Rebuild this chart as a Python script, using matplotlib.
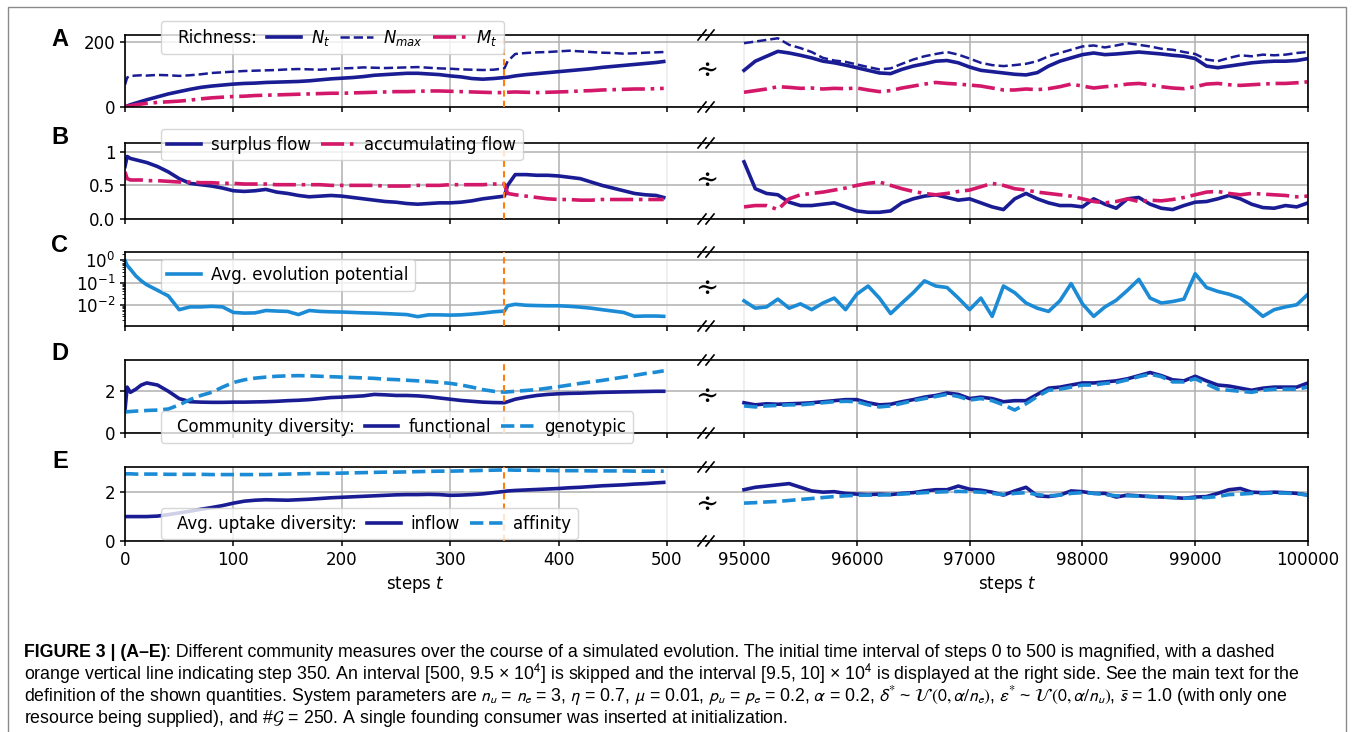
import matplotlib
matplotlib.use("Agg")
import matplotlib.pyplot as plt
import matplotlib.patches as mpatches
from matplotlib.lines import Line2D
from matplotlib.legend_handler import HandlerBase

# ---------------- data ----------------
steps_left = [0, 2, 5, 10, 15,
              20, 30, 40, 50, 60, 70, 80, 90, 100,
              110, 120, 130, 140, 150, 160, 170, 180, 190, 200,
              210, 220, 230, 240, 250, 260, 270, 280, 290, 300,
              310, 320, 330, 340, 350, 353,
              360, 370, 380, 390, 400, 410, 420, 430, 440, 450, 460, 470, 480, 490, 497]

steps_right = [95000, 95100, 95200, 95300, 95400, 95500, 95600, 95700, 95800, 95900,
               96000, 96100, 96200, 96300, 96400, 96500, 96600, 96700, 96800, 96900,
               97000, 97100, 97200, 97300, 97400, 97500, 97600, 97700, 97800, 97900,
               98000, 98100, 98200, 98300, 98400, 98500, 98600, 98700, 98800, 98900,
               99000, 99100, 99200, 99300, 99400, 99500, 99600, 99700, 99800, 99900,
               100000]

# A: richness
n_t_left = [0, 3, 7, 12, 17,
            22, 31, 40, 47, 54, 60, 64, 67, 70,
            72, 73, 75, 76, 77, 78, 80, 83, 86, 88,
            90, 93, 97, 99, 101, 103, 103, 101, 99, 95,
            92, 87, 85, 87, 90, 91,
            95, 99, 102, 105, 108, 111, 114, 117, 121, 124, 127, 130, 133, 136, 139]
n_max_left = [68, 90, 95, 96, 97,
              96, 98, 97, 95, 97, 100, 104, 106, 108,
              110, 111, 112, 113, 115, 116, 115, 114, 116, 118,
              119, 121, 120, 119, 120, 121, 122, 120, 118, 117,
              115, 114, 113, 114, 118, 140,
              162, 165, 167, 168, 170, 172, 170, 168, 166, 165, 163, 164, 166, 167, 168]
m_t_left = [0, 2, 4, 7, 9,
            11, 14, 16, 18, 21, 25, 28, 30, 32,
            33, 35, 36, 37, 38, 39, 40, 41, 42, 42,
            43, 44, 45, 46, 47, 47, 48, 49, 49, 48,
            47, 46, 45, 44, 44, 45,
            46, 45, 44, 45, 46, 47, 49, 50, 52, 53, 54, 55, 55, 56, 57]
n_t_right = [112, 140, 155, 170, 165, 158, 150, 140, 135, 128,
             120, 112, 104, 102, 115, 125, 132, 140, 142, 135,
             122, 112, 108, 104, 100, 98, 105, 125, 140, 150,
             160, 165, 160, 162, 165, 168, 165, 162, 158, 155,
             148, 125, 120, 125, 130, 135, 138, 140, 140, 142, 148]
n_max_right = [195, 200, 205, 210, 190, 180, 168, 150, 142, 138,
               130, 122, 115, 118, 132, 145, 155, 162, 168, 160,
               148, 135, 128, 125, 128, 132, 140, 155, 165, 175,
               185, 188, 182, 188, 195, 190, 185, 178, 175, 168,
               162, 145, 140, 150, 158, 155, 160, 158, 160, 165, 168]
m_t_right = [45, 50, 55, 62, 60, 57, 58, 55, 57, 56,
             58, 52, 47, 50, 58, 64, 70, 75, 72, 70,
             67, 64, 58, 52, 52, 55, 53, 56, 62, 70,
             64, 58, 62, 65, 70, 72, 68, 62, 58, 56,
             62, 70, 72, 68, 66, 68, 70, 72, 72, 74, 77]

# B: flows
surplus_left = [0.78, 0.93, 0.90, 0.88, 0.86,
                0.84, 0.78, 0.70, 0.60, 0.53, 0.51, 0.49, 0.46, 0.42,
                0.41, 0.42, 0.44, 0.40, 0.38, 0.35, 0.33, 0.34, 0.35, 0.34,
                0.32, 0.30, 0.28, 0.26, 0.25, 0.23, 0.22, 0.23, 0.24, 0.24,
                0.25, 0.27, 0.30, 0.32, 0.34, 0.50,
                0.66, 0.66, 0.65, 0.65, 0.64, 0.62, 0.60, 0.55, 0.50, 0.46, 0.42, 0.38, 0.36, 0.35, 0.32]
accum_left = [0.70, 0.60, 0.58, 0.58, 0.58,
              0.57, 0.57, 0.56, 0.55, 0.55, 0.54, 0.54, 0.53, 0.53,
              0.52, 0.52, 0.52, 0.51, 0.51, 0.51, 0.51, 0.51, 0.50, 0.50,
              0.50, 0.50, 0.50, 0.49, 0.49, 0.49, 0.50, 0.50, 0.50, 0.51,
              0.51, 0.51, 0.51, 0.52, 0.52, 0.38,
              0.36, 0.34, 0.32, 0.30, 0.29, 0.29, 0.28, 0.28, 0.29, 0.29, 0.29, 0.29, 0.29, 0.29, 0.29]
surplus_right = [0.85, 0.45, 0.38, 0.36, 0.25, 0.20, 0.20, 0.22, 0.24, 0.18,
                 0.12, 0.10, 0.10, 0.12, 0.24, 0.30, 0.34, 0.36, 0.32, 0.28,
                 0.30, 0.24, 0.18, 0.14, 0.30, 0.38, 0.30, 0.24, 0.20, 0.20,
                 0.18, 0.30, 0.22, 0.16, 0.30, 0.32, 0.22, 0.16, 0.14, 0.20,
                 0.25, 0.26, 0.30, 0.35, 0.30, 0.22, 0.17, 0.16, 0.20, 0.18, 0.24]
accum_right = [0.18, 0.20, 0.20, 0.14, 0.30, 0.36, 0.38, 0.40, 0.43, 0.46,
               0.50, 0.53, 0.55, 0.50, 0.45, 0.41, 0.38, 0.36, 0.38, 0.41,
               0.43, 0.48, 0.53, 0.50, 0.45, 0.43, 0.40, 0.38, 0.36, 0.34,
               0.30, 0.26, 0.24, 0.26, 0.30, 0.26, 0.28, 0.27, 0.29, 0.32,
               0.36, 0.40, 0.41, 0.38, 0.36, 0.38, 0.37, 0.36, 0.35, 0.33, 0.34]

# C: avg. evolution potential
evo_left = [1.0, 0.6, 0.4, 0.2, 0.12,
            0.08, 0.045, 0.025, 0.006, 0.008, 0.008, 0.0085, 0.008, 0.0045,
            0.0042, 0.0043, 0.0055, 0.0052, 0.005, 0.0036, 0.0055, 0.005, 0.0048, 0.0047,
            0.0045, 0.0043, 0.0042, 0.004, 0.0038, 0.0036, 0.0029, 0.0035, 0.0035, 0.0034,
            0.0035, 0.0038, 0.0042, 0.0048, 0.0052, 0.009,
            0.0105, 0.0095, 0.0092, 0.009, 0.009, 0.0085, 0.0078, 0.007, 0.006, 0.0052,
            0.0045, 0.003, 0.0031, 0.0031, 0.003]
evo_right = [0.015, 0.007, 0.008, 0.018, 0.007, 0.011, 0.006, 0.012, 0.02, 0.006,
             0.03, 0.07, 0.02, 0.004, 0.012, 0.035, 0.12, 0.07, 0.06, 0.02,
             0.006, 0.02, 0.003, 0.07, 0.035, 0.012, 0.007, 0.005, 0.015, 0.09,
             0.011, 0.003, 0.008, 0.016, 0.045, 0.14, 0.02, 0.012, 0.014, 0.018,
             0.25, 0.06, 0.04, 0.03, 0.02, 0.008, 0.003, 0.006, 0.008, 0.01, 0.03]

# D: community diversity
functional_left = [1.1, 2.2, 1.95, 2.1, 2.3,
                   2.4, 2.3, 2.0, 1.65, 1.5, 1.48, 1.47, 1.47, 1.48,
                   1.48, 1.49, 1.5, 1.52, 1.55, 1.57, 1.6, 1.65, 1.7, 1.72,
                   1.75, 1.78, 1.85, 1.83, 1.8, 1.8, 1.78, 1.74, 1.68, 1.62,
                   1.56, 1.52, 1.48, 1.46, 1.45, 1.5,
                   1.62, 1.72, 1.8, 1.85, 1.88, 1.9, 1.91, 1.93, 1.95, 1.96, 1.97, 1.98, 1.99, 2.0, 2.0]
genotypic_left = [1.0, 1.02, 1.03, 1.05, 1.06,
                  1.08, 1.1, 1.15, 1.35, 1.6, 1.8, 1.95, 2.2, 2.42,
                  2.55, 2.63, 2.68, 2.72, 2.74, 2.75, 2.74, 2.72, 2.7, 2.68,
                  2.66, 2.64, 2.62, 2.58, 2.56, 2.53, 2.5, 2.47, 2.43, 2.38,
                  2.3, 2.2, 2.08, 2.0, 1.96, 1.97,
                  2.0, 2.04, 2.08, 2.15, 2.22, 2.3, 2.38, 2.45, 2.52, 2.6, 2.68, 2.76, 2.85, 2.92, 2.98]
functional_right = [1.45, 1.35, 1.4, 1.38, 1.4, 1.42, 1.45, 1.5, 1.55, 1.6,
                    1.6, 1.45, 1.35, 1.38, 1.5, 1.6, 1.72, 1.8, 1.92, 1.85,
                    1.65, 1.72, 1.65, 1.5, 1.55, 1.55, 1.85, 2.15, 2.2, 2.3,
                    2.4, 2.4, 2.45, 2.5, 2.6, 2.75, 2.9, 2.75, 2.55, 2.5,
                    2.72, 2.5, 2.3, 2.25, 2.15, 2.05, 2.15, 2.2, 2.2, 2.2, 2.4]
genotypic_right = [1.3, 1.25, 1.3, 1.32, 1.35, 1.35, 1.4, 1.45, 1.5, 1.52,
                   1.5, 1.35, 1.25, 1.3, 1.42, 1.55, 1.65, 1.75, 1.85, 1.75,
                   1.58, 1.65, 1.55, 1.35, 1.1, 1.4, 1.75, 2.05, 2.1, 2.2,
                   2.3, 2.3, 2.38, 2.42, 2.55, 2.7, 2.82, 2.7, 2.45, 2.45,
                   2.6, 2.35, 2.1, 2.05, 2.0, 1.95, 2.05, 2.1, 2.1, 2.1, 2.2]

# E: avg. uptake diversity
inflow_left = [1.0, 1.0, 1.0, 1.0, 1.0,
               1.0, 1.02, 1.08, 1.15, 1.22, 1.3, 1.37, 1.45, 1.55,
               1.63, 1.67, 1.69, 1.68, 1.67, 1.69, 1.71, 1.74, 1.77, 1.79,
               1.81, 1.83, 1.85, 1.87, 1.89, 1.9, 1.9, 1.91, 1.9, 1.87,
               1.88, 1.9, 1.93, 1.98, 2.03, 2.05,
               2.07, 2.09, 2.11, 2.13, 2.15, 2.18, 2.2, 2.23, 2.26, 2.28, 2.3, 2.33, 2.35, 2.38, 2.4]
affinity_left = [2.75, 2.75, 2.75, 2.74, 2.74,
                 2.74, 2.74, 2.73, 2.73, 2.73, 2.73, 2.72, 2.72, 2.72,
                 2.72, 2.72, 2.72, 2.73, 2.74, 2.75, 2.76, 2.77, 2.77, 2.78,
                 2.79, 2.8, 2.81, 2.82, 2.82, 2.83, 2.84, 2.85, 2.86, 2.86,
                 2.87, 2.88, 2.89, 2.9, 2.91, 2.91,
                 2.9, 2.9, 2.89, 2.89, 2.88, 2.88, 2.88, 2.87, 2.87, 2.87, 2.87, 2.86, 2.86, 2.86, 2.86]
inflow_right = [2.1, 2.2, 2.25, 2.3, 2.35, 2.2, 2.05, 2.0, 2.02, 1.95,
                1.92, 1.9, 1.92, 1.9, 1.95, 1.98, 2.05, 2.1, 2.1, 2.25,
                2.12, 2.08, 2.0, 1.88, 2.05, 2.2, 1.85, 1.82, 1.88, 2.05,
                2.02, 1.95, 1.95, 1.8, 1.88, 1.85, 1.82, 1.8, 1.78, 1.75,
                1.8, 1.82, 1.95, 2.1, 2.15, 2.0, 1.98, 2.0, 1.98, 1.95, 1.88]
affinity_right = [1.55, 1.57, 1.6, 1.62, 1.66, 1.7, 1.74, 1.78, 1.82, 1.85,
                  1.87, 1.88, 1.88, 1.9, 1.92, 1.95, 1.98, 2.0, 2.02, 2.03,
                  2.02, 2.0, 1.95, 1.9, 1.95, 1.98, 1.9, 1.85, 1.88, 1.95,
                  1.98, 1.95, 1.9, 1.85, 1.85, 1.84, 1.82, 1.8, 1.78, 1.75,
                  1.76, 1.78, 1.82, 1.9, 1.92, 1.95, 1.95, 1.97, 1.96, 1.94, 1.88]

left_ticks = [0, 100, 200, 300, 400, 500]
right_ticks = [95000, 96000, 97000, 98000, 99000, 100000]
marked_step = 350

NAVY = "#1a1c94"
CRIMSON = "#d3186a"
SKY = "#1b8bd5"
ORANGE = "#ff7f0e"

# ---------------- layout (pixels of the 1354x732 picture) ----------------
W, H = 1354, 732
X_LEFT, X_MID, X_RIGHT = 125, 706, 1308
ROWS = [(35, 107), (143, 219), (252, 326), (360, 433), (467, 541)]
LETTER_Y = [40, 138, 245, 354, 461]
LEFT_XLIM = (0, 536)
RIGHT_XLIM = (94663, 100000)

plt.rcParams["font.size"] = 12
plt.rcParams["axes.linewidth"] = 1.2
plt.rcParams["mathtext.fontset"] = "stixsans"

fig = plt.figure(figsize=(W / 100, H / 100), dpi=100)


class LabelOnly(HandlerBase):
    # legend entry that is just text (no handle)
    def legend_artist(self, legend, orig_handle, fontsize, handlebox):
        handlebox.width = 0
        art = mpatches.Rectangle((0, 0), 0, 0, visible=False)
        handlebox.add_artist(art)
        return art


def make_axes(top, bottom):
    hl = (bottom - top) / H
    b = 1 - bottom / H
    axl = fig.add_axes([X_LEFT / W, b, (X_MID - X_LEFT) / W, hl])
    axr = fig.add_axes([X_MID / W, b, (X_RIGHT - X_MID) / W, hl])
    for ax, lim, ticks in ((axl, LEFT_XLIM, left_ticks), (axr, RIGHT_XLIM, right_ticks)):
        ax.set_xlim(*lim)
        ax.set_xticks(ticks)
        ax.grid(True, color="#b0b0b0", lw=1.1)
        ax.set_axisbelow(True)
        ax.tick_params(labelbottom=False, width=1.1)
    axl.spines["right"].set_visible(False)
    axr.spines["left"].set_visible(False)
    axr.tick_params(left=False, labelleft=False)
    axl.get_xgridlines()[-1].set_color("#ececec")
    axr.get_xgridlines()[0].set_color("#ececec")
    axl.axvline(marked_step, color=ORANGE, ls=(0, (3, 2)), lw=1.5, zorder=3)
    return axl, axr


axes = [make_axes(t, b) for t, b in ROWS]
lw = 2.6

# A
axl, axr = axes[0]
for ax, x, nt, nm, mt in ((axl, steps_left, n_t_left, n_max_left, m_t_left),
                          (axr, steps_right, n_t_right, n_max_right, m_t_right)):
    ax.plot(x, nt, color=NAVY, lw=lw, label="$N_t$")
    ax.plot(x, nm, color=NAVY, lw=1.8, ls="--", label="$N_{max}$")
    ax.plot(x, mt, color=CRIMSON, lw=lw, ls="-.", label="$M_t$")
    ax.set_ylim(0, 220)
    ax.set_yticks([0, 200])

# B
axl, axr = axes[1]
for ax, x, s, a in ((axl, steps_left, surplus_left, accum_left),
                    (axr, steps_right, surplus_right, accum_right)):
    ax.plot(x, s, color=NAVY, lw=lw, label="surplus flow")
    ax.plot(x, a, color=CRIMSON, lw=lw, ls="-.", label="accumulating flow")
    ax.set_ylim(0, 1.13)
    ax.set_yticks([0, 0.5, 1])
    ax.set_yticklabels(["0.0", "0.5", "1"])

# C
axl, axr = axes[2]
for ax, x, e in ((axl, steps_left, evo_left), (axr, steps_right, evo_right)):
    ax.plot(x, e, color=SKY, lw=lw, label="Avg. evolution potential")
    ax.set_yscale("log")
    ax.set_ylim(1.1e-3, 2.4)
    ax.set_yticks([1e-2, 1e-1, 1e0])
axr.tick_params(which="minor", left=False)

# D
axl, axr = axes[3]
for ax, x, f, g in ((axl, steps_left, functional_left, genotypic_left),
                    (axr, steps_right, functional_right, genotypic_right)):
    ax.plot(x, f, color=NAVY, lw=lw, label="functional")
    ax.plot(x, g, color=SKY, lw=lw, ls="--", label="genotypic")
    ax.set_ylim(0, 3.5)
    ax.set_yticks([0, 2])

# E
axl, axr = axes[4]
for ax, x, i, a in ((axl, steps_left, inflow_left, affinity_left),
                    (axr, steps_right, inflow_right, affinity_right)):
    ax.plot(x, i, color=NAVY, lw=lw, label="inflow")
    ax.plot(x, a, color=SKY, lw=lw, ls="--", label="affinity")
    ax.set_ylim(0, 3.03)
    ax.set_yticks([0, 2])
    ax.tick_params(labelbottom=True)
    ax.set_xlabel("steps $t$", fontfamily="DejaVu Sans")
for ax in axes[4]:
    ax.xaxis.label.set_math_fontfamily("dejavusans")
for row in axes:
    for ax in row:
        for lab in ax.get_yticklabels() + ax.get_xticklabels():
            lab.set_math_fontfamily("dejavusans")

# legends
leg_kw = dict(loc="center left", fontsize=12, handlelength=2.0,
              handletextpad=0.6, columnspacing=0.6, borderpad=0.4)


def add_legend(ax, ypos, title=None):
    handles, labels = ax.get_legend_handles_labels()
    hmap = {}
    if title is not None:
        dummy = Line2D([], [])
        handles = [dummy] + handles
        labels = [title] + labels
        hmap[dummy] = LabelOnly()
    leg = ax.legend(handles, labels, ncol=len(handles), bbox_to_anchor=(0.047, ypos),
                    handler_map=hmap, **leg_kw)
    for t in leg.get_texts():
        t.set_math_fontfamily("dejavusans")
    return leg


add_legend(axes[0][0], 0.965, "Richness:")
add_legend(axes[1][0], 0.98)
add_legend(axes[2][0], 0.69)
add_legend(axes[3][0], 0.08, "Community diversity:")
add_legend(axes[4][0], 0.235, "Avg. uptake diversity:")

# overlay in pixel coordinates for decorations and caption
over = fig.add_axes([0, 0, 1, 1])
over.set_xlim(0, W)
over.set_ylim(H, 0)
over.axis("off")

for letter, ly, (top, bottom) in zip("ABCDE", LETTER_Y, ROWS):
    over.text(60, ly, letter, fontsize=17, fontweight="bold",
              ha="center", va="center", fontfamily="Liberation Sans")
    for y in (top, bottom):
        for cx in (X_MID - 4, X_MID + 4):
            over.plot([cx - 4, cx + 4], [y + 5, y - 5], color="black", lw=1.2)
    over.text(X_MID + 1, (top + bottom) / 2, "\u223b", fontsize=20, ha="center",
              va="center", fontfamily="DejaVu Serif")

over.add_patch(mpatches.Rectangle((8, 7), W - 16, H + 20, fill=False,
                                  edgecolor="#8a8a8a", lw=1.0))

cap_font = ["Liberation Sans"]
cap_size = 12.8
line1_bold = "FIGURE 3 | (A\u2013E)"
caption_lines = [
    ": Different community measures over the course of a simulated evolution. The initial time interval of steps 0 to 500 is magnified, with a dashed",
    "orange vertical line indicating step 350. An interval [500, 9.5 \u00d7 10$^4$] is skipped and the interval [9.5, 10] \u00d7 10$^4$ is displayed at the right side. See the main text for the",
    r"definition of the shown quantities. System parameters are $n_u$ = $n_e$ = 3, $\eta$ = 0.7, $\mu$ = 0.01, $p_u$ = $p_e$ = 0.2, $\alpha$ = 0.2, $\delta^{*}$ ~ $\mathcal{U}\,(0,\alpha/n_e)$, $\varepsilon^{*}$ ~ $\mathcal{U}\,(0,\alpha/n_u)$, $\bar{s}$ = 1.0 (with only one",
    r"resource being supplied), and #$\mathcal{G}$ = 250. A single founding consumer was inserted at initialization.",
]
cap_y = [657, 679, 701, 723]
t0 = over.text(24, cap_y[0], line1_bold, fontsize=cap_size, fontweight="bold",
               family=cap_font, va="baseline")
over.annotate(caption_lines[0], xy=(1, 0), xycoords=t0, va="bottom", ha="left",
              fontsize=cap_size, family=cap_font)
for line, y in zip(caption_lines[1:], cap_y[1:]):
    over.text(24, y, line, fontsize=cap_size, family=cap_font, va="baseline")

fig.savefig("out.png", dpi=100)
